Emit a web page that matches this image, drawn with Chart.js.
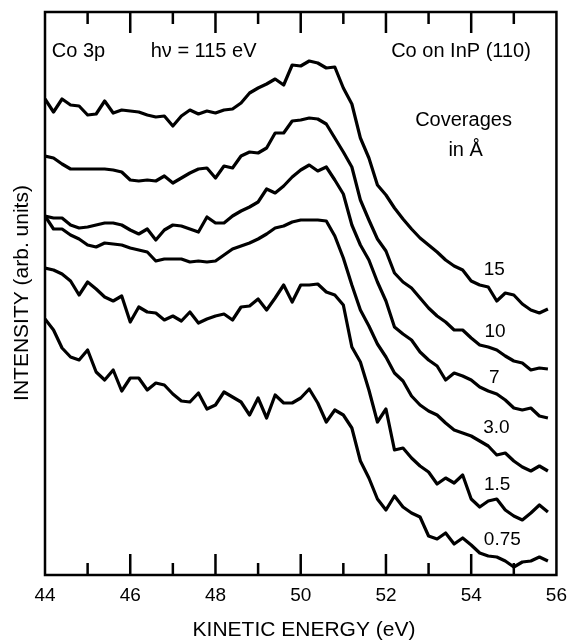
<!DOCTYPE html>
<html>
<head>
<meta charset="utf-8">
<script src="https://cdn.jsdelivr.net/npm/chart.js@4.4.1/dist/chart.umd.min.js"></script>
<style>
  html, body { margin: 0; padding: 0; background: #fff; }
  #wrap { width: 576px; height: 641px; position: relative; }
</style>
</head>
<body>
<div id="wrap"><canvas id="chart"></canvas></div>
<script>
// Co 3p spectra, Co on InP(110), hv = 115 eV
const energies = [
  44.0, 44.2, 44.4, 44.6, 44.8, 45.0, 45.2, 45.4, 45.6, 45.8,
  46.0, 46.2, 46.4, 46.6, 46.8, 47.0, 47.2, 47.4, 47.6, 47.8,
  48.0, 48.2, 48.4, 48.6, 48.8, 49.0, 49.2, 49.4, 49.6, 49.8,
  50.0, 50.2, 50.4, 50.6, 50.8, 51.0, 51.2, 51.4, 51.6, 51.8,
  52.0, 52.2, 52.4, 52.6, 52.8, 53.0, 53.2, 53.4, 53.6, 53.8,
  54.0, 54.2, 54.4, 54.6, 54.8, 55.0, 55.2, 55.4, 55.6, 55.8
];

// intensities, arb. units (each curve offset vertically as in the figure)
const cov15 = [
  476, 463, 476, 470, 469, 460, 461, 474, 462, 465,
  464, 463, 460, 458, 459, 449, 459, 465, 461, 464,
  462, 465, 466, 472, 482, 487, 491, 496, 490, 510,
  509, 514, 512, 507, 508, 487, 471, 437, 417, 390,
  380, 367, 356, 346, 337, 330, 323, 315, 309, 305,
  294, 290, 288, 274, 282, 280, 271, 265, 262, 266
];
const cov10 = [
  419, 417, 411, 406, 406, 406, 406, 406, 405, 403,
  395, 394, 395, 394, 399, 392, 397, 402, 406, 407,
  397, 409, 407, 419, 423, 422, 427, 442, 442, 454,
  455, 457, 456, 451, 437, 423, 408, 375, 355, 336,
  324, 302, 293, 287, 277, 267, 259, 253, 245, 245,
  237, 230, 228, 225, 219, 214, 212, 205, 207, 206
];
const cov7 = [
  359, 357, 357, 350, 347, 348, 350, 352, 352, 350,
  345, 341, 346, 335, 345, 350, 349, 346, 343, 358,
  352, 352, 359, 364, 368, 373, 386, 382, 389, 398,
  405, 410, 404, 408, 395, 381, 350, 330, 315, 293,
  274, 248, 241, 235, 223, 215, 209, 195, 202, 199,
  195, 188, 184, 181, 175, 167, 165, 167, 159, 157
];
const cov3 = [
  359, 346, 346, 340, 336, 330, 328, 332, 331, 330,
  327, 325, 323, 314, 316, 316, 316, 313, 314, 313,
  314, 320, 326, 329, 332, 336, 341, 347, 349, 353,
  355, 355, 355, 354, 339, 317, 290, 265, 249, 231,
  218, 202, 194, 179, 170, 164, 160, 152, 145, 142,
  139, 134, 129, 120, 122, 114, 108, 104, 109, 104
];
const cov1p5 = [
  307, 305, 301, 294, 280, 293, 286, 278, 274, 279,
  253, 268, 263, 262, 255, 259, 254, 263, 252, 256,
  259, 261, 255, 268, 269, 276, 265, 277, 290, 273,
  290, 290, 291, 283, 280, 270, 228, 213, 185, 153,
  166, 125, 127, 117, 109, 103, 91, 97, 92, 100,
  76, 68, 74, 76, 65, 59, 55, 62, 70, 63
];
const cov0p75 = [
  256, 245, 227, 218, 215, 225, 203, 195, 205, 184,
  197, 197, 185, 192, 190, 181, 174, 173, 182, 166,
  170, 183, 178, 173, 160, 177, 157, 180, 172, 172,
  177, 186, 172, 153, 165, 160, 147, 114, 97, 76,
  65, 79, 68, 62, 58, 39, 36, 42, 31, 37,
  30, 22, 19, 18, 14, 8, 13, 14, 18, 14
];

const seriesList = [cov15, cov10, cov7, cov3, cov1p5, cov0p75];
const coverageLabels = ['15', '10', '7', '3.0', '1.5', '0.75'];

// text placed in data coordinates [text, energy, intensity, align]
const notes = [
  ['Co 3p', 44.16, 524, 'left'],
  ['h\u03BD = 115 eV', 46.48, 524, 'left'],
  ['Co on InP (110)', 55.40, 524, 'right'],
  ['Coverages', 53.82, 455, 'center'],
  ['in \u00C5', 53.87, 425, 'center'],
  ['15', 54.54, 305, 'center'],
  ['10', 54.56, 243, 'center'],
  ['7', 54.54, 197, 'center'],
  ['3.0', 54.59, 147, 'center'],
  ['1.5', 54.61, 90, 'center'],
  ['0.75', 54.73, 35, 'center']
];

const FONT = '"Liberation Sans", Arial, Helvetica, sans-serif';

const decor = {
  id: 'decor',
  afterDraw(chart) {
    const { ctx, chartArea: a, scales: { x, y } } = chart;
    ctx.save();
    ctx.strokeStyle = '#000';
    ctx.lineWidth = 2.5;
    ctx.strokeRect(a.left, a.top, a.right - a.left, a.bottom - a.top);

    // inward tick marks, top and bottom
    x.ticks.forEach(t => {
      const px = x.getPixelForValue(t.value);
      if (px <= a.left + 1 || px >= a.right - 1) return;
      const len = t.value % 2 === 0 ? 21 : 12;
      ctx.beginPath();
      ctx.moveTo(px, a.bottom);
      ctx.lineTo(px, a.bottom - len);
      ctx.moveTo(px, a.top);
      ctx.lineTo(px, a.top + len);
      ctx.stroke();
    });

    ctx.fillStyle = '#000';
    ctx.textBaseline = 'middle';
    notes.forEach(([txt, e, v, align]) => {
      const numeric = /^[0-9.]+$/.test(txt);
      ctx.font = (numeric ? '19px ' : '20px ') + FONT;
      ctx.textAlign = align;
      ctx.fillText(txt, x.getPixelForValue(e), y.getPixelForValue(v));
    });

    // axis titles
    ctx.font = '21px ' + FONT;
    ctx.textAlign = 'center';
    ctx.fillText('KINETIC ENERGY (eV)', 304, 630);
    ctx.translate(22, 293);
    ctx.rotate(-Math.PI / 2);
    ctx.fillText('INTENSITY (arb. units)', 0, 0);
    ctx.restore();
  }
};

new Chart(document.getElementById('chart'), {
  type: 'line',
  data: {
    datasets: seriesList.map((vals, i) => ({
      label: coverageLabels[i],
      data: energies.map((e, j) => ({ x: e, y: vals[j] })),
      borderColor: '#000',
      borderWidth: 3.2,
      borderJoinStyle: 'round',
      pointRadius: 0,
      tension: 0,
      fill: false
    }))
  },
  options: {
    responsive: true,
    maintainAspectRatio: false,
    animation: false,
    layout: { padding: { left: 45, right: 13, top: 12, bottom: 0 } },
    scales: {
      x: {
        type: 'linear',
        min: 44,
        max: 56,
        afterFit: s => { s.height = 66; },
        border: { display: false },
        grid: { display: false, drawTicks: false },
        ticks: {
          stepSize: 1,
          padding: 9,
          color: '#000',
          font: { family: FONT, size: 19 },
          maxRotation: 0,
          autoSkip: false,
          callback: v => (v % 2 === 0 ? String(v) : '')
        }
      },
      y: {
        display: false,
        min: 0,
        max: 563
      }
    },
    plugins: {
      legend: { display: false },
      tooltip: { enabled: false }
    }
  },
  plugins: [decor]
});
</script>
</body>
</html>
